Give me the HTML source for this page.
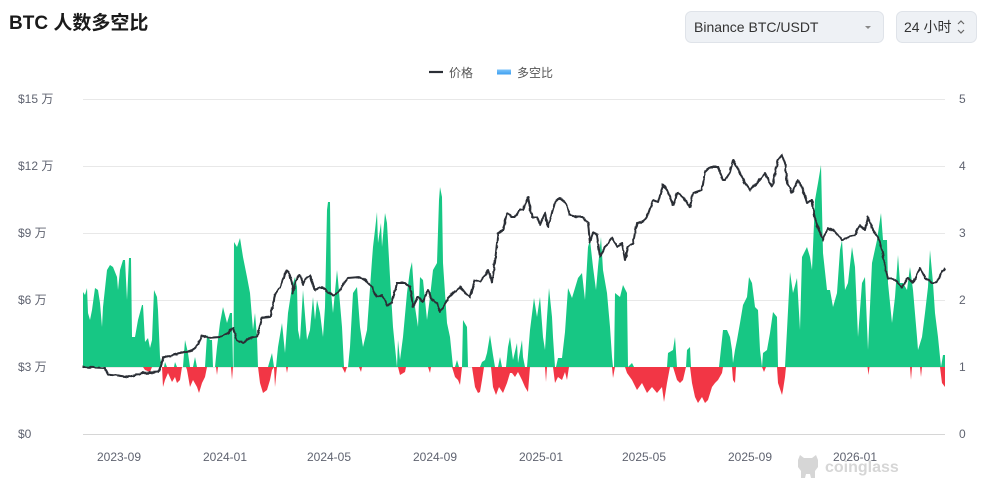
<!DOCTYPE html>
<html><head><meta charset="utf-8"><style>
html,body{margin:0;padding:0;background:#fff;}
body{width:994px;height:489px;overflow:hidden;}
svg{display:block;font-family:"Liberation Sans","Noto Sans CJK SC",sans-serif;}
</style></head><body>
<svg width="994" height="489" viewBox="0 0 994 489" xmlns="http://www.w3.org/2000/svg">
<defs>
<linearGradient id="lg" x1="0" y1="0" x2="0" y2="1"><stop offset="0" stop-color="#7cc3fa"/><stop offset="1" stop-color="#3d9ff0"/></linearGradient>
<filter id="jit" filterUnits="userSpaceOnUse" x="70" y="140" width="890" height="250">
<feTurbulence type="fractalNoise" baseFrequency="0.22" numOctaves="1" seed="3" result="t"/>
<feDisplacementMap in="SourceGraphic" in2="t" scale="3" xChannelSelector="R" yChannelSelector="G"/>
</filter>
</defs>
<rect width="994" height="489" fill="#fff"/>
<text x="9" y="29" font-size="19" font-weight="bold" fill="#1a1a1a">BTC 人数多空比</text>

<rect x="685.5" y="11.5" width="198" height="31" rx="6" fill="#eef1f5" stroke="#dfe3e9"/>
<text x="694" y="32" font-size="14" fill="#333">Binance BTC/USDT</text>
<polygon points="865,26 871,26 868,29" fill="#888"/>
<rect x="896.5" y="11.5" width="80" height="31" rx="6" fill="#eef1f5" stroke="#dfe3e9"/>
<text x="904" y="32" font-size="14" fill="#333">24 小时</text>
<polyline points="958,24 961,21 964,24" fill="none" stroke="#666" stroke-width="1.2"/>
<polyline points="958,30 961,33 964,30" fill="none" stroke="#666" stroke-width="1.2"/>

<line x1="429" y1="72" x2="443" y2="72" stroke="#2b2f36" stroke-width="2.2"/>
<text x="449" y="77" font-size="12" fill="#555">价格</text>
<rect x="497" y="69.5" width="14" height="5" fill="url(#lg)"/>
<text x="517" y="77" font-size="12" fill="#555">多空比</text>

<g stroke="#e8e8e8" stroke-width="1">
<line x1="83" y1="99.5" x2="945" y2="99.5"/>
<line x1="83" y1="166.5" x2="945" y2="166.5"/>
<line x1="83" y1="233.5" x2="945" y2="233.5"/>
<line x1="83" y1="300.5" x2="945" y2="300.5"/>
<line x1="83" y1="367.5" x2="945" y2="367.5"/>
</g>
<line x1="83" y1="434.5" x2="945" y2="434.5" stroke="#d6d6d6"/>

<g font-size="12" fill="#5f6370">
<text x="18" y="103">$15 万</text>
<text x="18" y="170">$12 万</text>
<text x="18" y="237">$9 万</text>
<text x="18" y="304">$6 万</text>
<text x="18" y="371">$3 万</text>
<text x="18" y="438">$0</text>
<text x="959" y="103">5</text>
<text x="959" y="170">4</text>
<text x="959" y="237">3</text>
<text x="959" y="304">2</text>
<text x="959" y="371">1</text>
<text x="959" y="438">0</text>
</g>

<!-- watermark -->
<g fill="#d6d6d6">
<path d="M798,460 L800,455 L804,458 L812,458 L816,455 L818,460 L818,467 L815,471 L815,478 L811,478 L810,474 L806,474 L805,478 L801,478 L801,471 L798,467 Z"/>
<text x="825" y="472" font-size="16" font-weight="bold">coinglass</text>
</g>

<g font-size="12" fill="#5f6370" text-anchor="middle">
<text x="119" y="461">2023-09</text>
<text x="225" y="461">2024-01</text>
<text x="329" y="461">2024-05</text>
<text x="435" y="461">2024-09</text>
<text x="541" y="461">2025-01</text>
<text x="644" y="461">2025-05</text>
<text x="750" y="461">2025-09</text>
<text x="855" y="461">2026-01</text>
</g>

<path fill="#17c784" d="M83,367 L83,292 85,295 87,288 88,313 90,320 92,310 95,288 98,290 100,303 102,327 103,307 107,270 110,265 113,267 117,277 118,290 120,270 123,260 125,260 127,300 129,258 131,258 132,337 135,337 138,320 142,305 143,305 145,342 148,338 150,348 152,340 154,290 157,297 158,310 160,357 162,367 164,367 165,362 167,367 174,367 175,362 177,367 183,367 185,340 188,353 190,367 193,367 195,357 197,367 205,367 207,335 210,340 212,340 213,367 215,367 217,347 220,323 223,307 227,323 230,313 232,313 233,367 233.5,367 234,242 237,247 240,238 243,257 247,277 250,293 253,330 255,313 257,337 258,367 268,367 270,360 272,353 274,367 276,367 278,347 282,323 285,353 288,313 292,287 295,277 297,287 298,330 300,340 303,290 307,340 310,330 313,297 315,320 317,300 320,313 323,337 325,307 327,210 328,202 330,202 331,290 332,303 333,313 337,270 338,280 342,327 344,367 348,367 350,347 353,293 357,287 360,327 363,347 367,330 372,260 373,247 375,230 377,212 378,243 381,223 382,247 385,213 387,223 390,277 393,327 395,347 397,367 398,340 400,360 403,337 407,293 410,270 412,262 415,307 418,327 420,277 423,280 427,320 430,297 433,270 437,263 439,200 440,187 442,197 443,263 447,323 450,337 453,367 455,367 457,360 459,367 462,367 463,320 467,327 468,367 480,367 482,362 485,360 487,353 490,335 493,355 495,367 498,367 500,357 502,367 506,367 508,347 510,337 513,360 517,343 518,363 522,340 523,357 525,367 527,367 530,330 534,298 537,317 540,297 543,337 545,350 547,317 549,288 552,317 553,337 555,367 556,367 558,358 562,358 565,332 568,288 572,298 575,288 578,278 582,273 585,300 588,247 590,240 593,267 596,290 598,267 601,237 603,270 607,293 610,327 612,357 613,367 614,367 615,293 620,297 623,285 627,293 628,367 632,363 634,367 667,367 668,353 673,350 675,337 677,367 686,367 687,350 690,347 691,367 719,367 720,358 723,330 727,330 730,337 732,350 733,363 735,350 737,340 740,323 743,305 747,297 749,277 752,283 755,307 758,310 760,350 762,367 763,353 767,350 770,333 773,312 777,317 778,367 785,367 787,330 790,272 793,293 797,278 800,330 802,257 807,247 810,257 812,270 815,200 818,183 821,165 823,253 827,290 830,290 833,307 837,293 840,250 842,240 845,290 848,283 852,247 855,267 858,337 862,283 865,277 868,350 872,263 877,240 881,213 883,240 887,240 888,283 892,323 895,297 898,255 900,283 903,283 907,290 910,267 913,290 917,337 918,350 922,337 925,313 928,287 930,250 933,283 935,313 938,337 941,367 943,355 945,355 945,367 Z"/>

<path fill="#f23645" d="M143,367 L145,370 L150,372 L152,367 Z
M162,367 L163,387 L165,380 L168,373 L172,382 L175,377 L177,383 L180,380 L182,367 Z
M186,367 L187,370 L190,387 L193,380 L197,387 L199,393 L202,383 L205,377 L207,367 Z
M216,367 L217,375 L218,367 Z
M231,367 L232,380 L233,367 Z
M258,367 L260,383 L263,393 L267,390 L270,380 L272,370 L274,367 L275,387 L277,367 Z
M286,367 L287,373 L288,367 Z
M342,367 L345,373 L347,367 Z
M359,367 L361,372 L362,367 Z
M398,367 L400,375 L405,372 L406,367 Z
M428,367 L430,373 L431,367 Z
M452,367 L455,377 L458,380 L460,385 L462,367 Z
M472,367 L475,387 L478,393 L480,392 L482,380 L484,367 Z
M491,367 L493,387 L496,395 L499,387 L503,393 L507,383 L510,373 L512,373 L515,377 L518,372 L522,380 L525,387 L528,392 L530,367 Z
M545,367 L546,382 L547,367 Z
M553,367 L555,383 L558,377 L562,380 L565,372 L567,380 L569,367 Z
M612,367 L613,378 L615,367 Z
M625,367 L627,373 L632,380 L637,390 L642,383 L647,393 L652,387 L657,393 L662,387 L664,402 L667,383 L670,367 Z
M673,367 L677,380 L680,383 L683,380 L686,367 Z
M690,367 L692,383 L695,397 L698,403 L702,397 L705,403 L708,400 L712,387 L715,383 L718,380 L722,373 L723,367 Z
M732,367 L733,380 L735,383 L736,367 Z
M762,367 L764,372 L766,367 Z
M777,367 L778,383 L782,395 L783,390 L785,377 L786,367 Z
M867.5,367 L868.5,375 L869.5,367 Z
M910,367 L911,380 L912,367 Z
M920,367 L921,377 L922,367 Z
M940,367 L942,383 L945,387 L945,367 Z"/>

<polyline filter="url(#jit)" fill="none" stroke="#2b2f36" stroke-width="2" stroke-linejoin="round" points="83,367 105,368 108,374 128,377 143,373 158,372 161,366 163,358 170,356 180,353 193,350 198,345 202,335 207,338 220,337 228,333 233,328 237,340 243,343 250,338 257,337 262,318 270,317 273,305 275,295 280,287 287,270 290,276 292,283 293,293 297,277 300,275 303,285 305,280 310,275 315,290 322,287 328,292 333,295 338,293 345,282 348,278 360,277 365,280 372,287 377,297 382,295 387,305 392,303 397,283 405,283 410,287 413,307 418,297 423,302 428,290 432,300 437,303 440,312 443,307 448,298 453,293 460,287 465,293 470,297 475,280 480,282 485,275 488,270 492,282 495,262 498,233 503,230 507,213 512,217 515,217 520,210 523,210 528,197 532,217 537,217 540,225 545,213 548,227 555,202 560,198 565,202 570,215 577,217 583,217 588,223 590,243 593,232 597,235 600,257 605,247 612,238 617,247 622,243 625,260 628,247 633,243 637,223 643,222 647,217 653,200 658,202 663,185 667,190 673,205 677,193 683,197 690,207 693,193 702,190 705,172 710,167 718,167 723,180 725,180 730,172 733,160 740,173 745,183 750,190 757,183 765,173 772,187 778,160 782,155 785,163 787,183 792,193 798,180 803,190 807,203 812,200 815,220 820,233 823,240 828,228 835,232 842,240 848,237 855,235 860,225 865,230 868,217 873,230 878,237 882,250 885,267 888,278 895,280 902,287 908,278 913,282 920,268 925,278 932,283 937,282 942,272 945,268"/>
</svg>
</body></html>
